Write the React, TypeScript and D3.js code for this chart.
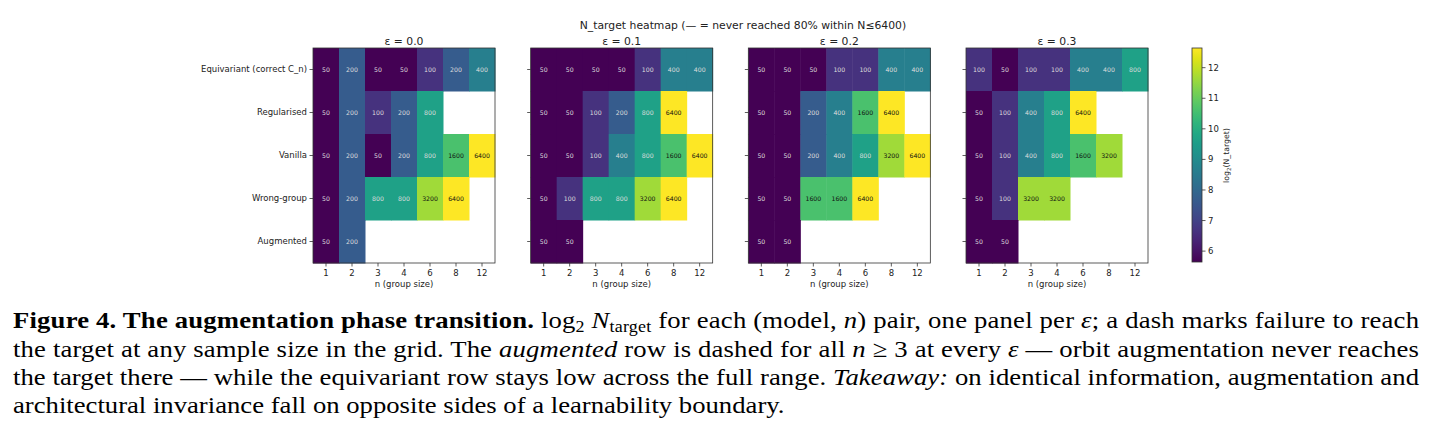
import React from 'react';
import * as d3 from 'd3';

// rows / columns of every panel
const models = ['Equivariant (correct C_n)', 'Regularised', 'Vanilla', 'Wrong-group', 'Augmented'];
const groupSizes = [1, 2, 3, 4, 6, 8, 12];
const epsilons = ['0.0', '0.1', '0.2', '0.3'];

// N_target per (model, n); null = never reached
const eps00 = [
  [50, 200, 50, 50, 100, 200, 400],
  [50, 200, 100, 200, 800, null, null],
  [50, 200, 50, 200, 800, 1600, 6400],
  [50, 200, 800, 800, 3200, 6400, null],
  [50, 200, null, null, null, null, null],
];
const eps01 = [
  [50, 50, 50, 50, 100, 400, 400],
  [50, 50, 100, 200, 800, 6400, null],
  [50, 50, 100, 400, 800, 1600, 6400],
  [50, 100, 800, 800, 3200, 6400, null],
  [50, 50, null, null, null, null, null],
];
const eps02 = [
  [50, 50, 50, 100, 100, 400, 400],
  [50, 50, 200, 400, 1600, 6400, null],
  [50, 50, 200, 400, 800, 3200, 6400],
  [50, 50, 1600, 1600, 6400, null, null],
  [50, 50, null, null, null, null, null],
];
const eps03 = [
  [100, 50, 100, 100, 400, 400, 800],
  [50, 100, 400, 800, 6400, null, null],
  [50, 100, 400, 800, 1600, 3200, null],
  [50, 100, 3200, 3200, null, null, null],
  [50, 50, null, null, null, null, null],
];
const panels = [eps00, eps01, eps02, eps03];
const cbarTicks = [6, 7, 8, 9, 10, 11, 12];

const sans = 'DejaVu Sans, sans-serif';
const serif = "'Liberation Serif', 'Times New Roman', serif";

const App = () => {
  const W = 1435, H = 439;
  const pw = 182, ph = 215, top = 48;
  const tickFs = 8.5;

  const panelX = d3.scalePoint<string>().domain(epsilons).range([313, 966]);
  const x = d3.scaleBand<number>().domain(groupSizes).range([0, pw]);
  const y = d3.scaleBand<string>().domain(models).range([0, ph]);
  const lo = Math.log2(50), hi = Math.log2(6400);
  const color = d3.scaleSequential(d3.interpolateViridis).domain([lo, hi]);

  const cbX = 1192, cbW = 10;
  const cbY = d3.scaleLinear().domain([lo, hi]).range([top + ph - 1, top]);
  const stops = d3.range(0, 1.0001, 0.05);

  // caption text is slightly squashed vertically in the reference
  const line = (yb: number) => `translate(13,${yb}) scale(1,0.88)`;

  return (
    <svg width={W} height={H} style={{ position: 'absolute', left: 0, top: 0, background: '#fff' }}>
      <defs>
        <linearGradient id="viridis" x1="0" y1="1" x2="0" y2="0">
          {stops.map(t => (
            <stop key={t} offset={`${t * 100}%`} stopColor={d3.interpolateViridis(t)} />
          ))}
        </linearGradient>
      </defs>

      <text x={743} y={29} textAnchor="middle" fontFamily={sans} fontSize={10.8} fill="#222">
        N_target heatmap (— = never reached 80% within N≤6400)
      </text>

      {panels.map((grid, p) => {
        const ox = panelX(epsilons[p])!;
        return (
          <g key={p} transform={`translate(${ox},${top})`}>
            <text x={pw / 2} y={-3.5} textAnchor="middle" fontFamily={sans} fontSize={10.8} fill="#222">
              ε = {epsilons[p]}
            </text>
            {grid.map((row, r) => row.map((v, c) => {
              if (v == null) return null;
              const l = Math.log2(v);
              const cx = x(groupSizes[c])!, cy = y(models[r])!;
              return (
                <g key={`${r}-${c}`}>
                  <rect x={cx} y={cy} width={x.bandwidth() + 0.5} height={y.bandwidth() + 0.5} fill={color(l)} />
                  <text x={cx + x.bandwidth() / 2} y={cy + y.bandwidth() / 2} dy="0.35em" textAnchor="middle"
                    fontFamily={sans} fontSize={6.2} fill={l > 10 ? '#111' : '#ddd'}>
                    {v}
                  </text>
                </g>
              );
            }))}
            <rect x={0} y={0} width={pw} height={ph} fill="none" stroke="#333" strokeWidth={0.8} />
            {models.map(m => (
              <g key={m} transform={`translate(0,${y(m)! + y.bandwidth() / 2})`}>
                <line x1={-3.5} x2={0} stroke="#333" strokeWidth={0.8} />
                {p === 0 && (
                  <text x={-6} dy="0.35em" textAnchor="end" fontFamily={sans} fontSize={tickFs} fill="#222">{m}</text>
                )}
              </g>
            ))}
            {groupSizes.map(n => (
              <g key={n} transform={`translate(${x(n)! + x.bandwidth() / 2},${ph})`}>
                <line y1={0} y2={3.5} stroke="#333" strokeWidth={0.8} />
                <text y={10} dy="0.35em" textAnchor="middle" fontFamily={sans} fontSize={tickFs} fill="#222">{n}</text>
              </g>
            ))}
            <text x={pw / 2} y={ph + 21} dy="0.35em" textAnchor="middle" fontFamily={sans} fontSize={tickFs} fill="#222">
              n (group size)
            </text>
          </g>
        );
      })}

      {/* colorbar */}
      <rect x={cbX} y={top} width={cbW} height={ph - 1} fill="url(#viridis)" stroke="#333" strokeWidth={0.8} />
      {cbarTicks.map(t => (
        <g key={t} transform={`translate(${cbX + cbW},${cbY(t)})`}>
          <line x1={0} x2={3.5} stroke="#333" strokeWidth={0.8} />
          <text x={6} dy="0.35em" fontFamily={sans} fontSize={tickFs} fill="#222">{t}</text>
        </g>
      ))}
      <text transform={`translate(1229,${top + ph / 2}) rotate(-90)`} textAnchor="middle" fontFamily={sans}
        fontSize={7.8} fill="#222">
        log<tspan fontSize={5.5} dy={2}>2</tspan><tspan dy={-2}>(N_target)</tspan>
      </text>

      {/* caption */}
      <g fontFamily={serif} fontSize={26.7} fill="#000">
        <text transform={line(328)} textLength={1406} lengthAdjust="spacing">
          <tspan fontWeight="bold">Figure 4. The augmentation phase transition.</tspan>
          <tspan> log</tspan><tspan fontSize={18} dy={4}>2</tspan>
          <tspan dy={-4} fontStyle="italic"> N</tspan><tspan fontSize={18} dy={4}>target</tspan>
          <tspan dy={-4}> for each (model, </tspan><tspan fontStyle="italic">n</tspan>
          <tspan>) pair, one panel per </tspan><tspan fontStyle="italic">ε</tspan>
          <tspan>; a dash marks failure to reach</tspan>
        </text>
        <text transform={line(357)} textLength={1406} lengthAdjust="spacing">
          <tspan>the target at any sample size in the grid. The </tspan>
          <tspan fontStyle="italic">augmented</tspan>
          <tspan> row is dashed for all </tspan><tspan fontStyle="italic">n</tspan>
          <tspan> ≥ 3 at every </tspan><tspan fontStyle="italic">ε</tspan>
          <tspan> — orbit augmentation never reaches</tspan>
        </text>
        <text transform={line(385)} textLength={1406} lengthAdjust="spacing">
          <tspan>the target there — while the equivariant row stays low across the full range. </tspan>
          <tspan fontStyle="italic">Takeaway:</tspan>
          <tspan> on identical information, augmentation and</tspan>
        </text>
        <text transform={line(413)}>
          architectural invariance fall on opposite sides of a learnability boundary.
        </text>
      </g>
    </svg>
  );
};

export default App;
